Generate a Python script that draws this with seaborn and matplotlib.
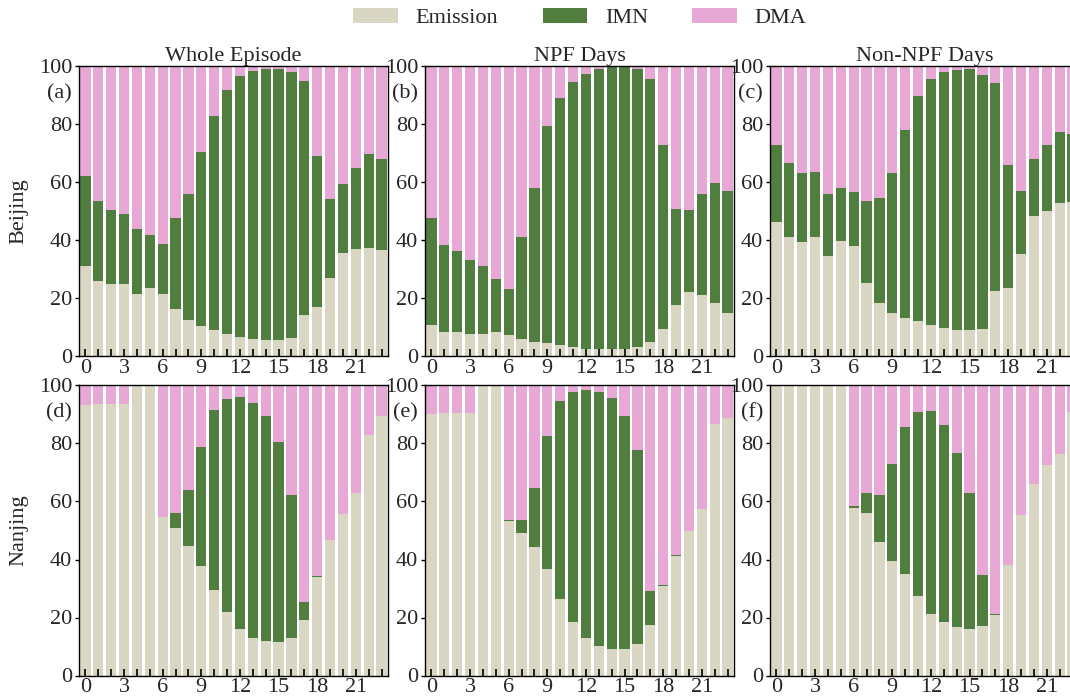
import numpy as np
import pandas as pd
import matplotlib
matplotlib.use("Agg")
import matplotlib.pyplot as plt
import seaborn as sns
from matplotlib.patches import Patch

hours = list(range(24))

# Emission share (%) and Emission+IMN cumulative share (%) per hour
bj_whole_emis = [30.9, 25.8, 24.7, 24.8, 21.4, 23.3, 21.4, 16.1, 12.4, 10.4, 8.9, 7.6,
                 6.6, 6.0, 5.5, 5.6, 6.3, 14.3, 16.9, 26.8, 35.6, 36.8, 37.4, 36.4]
bj_whole_cum = [61.9, 53.5, 50.5, 48.8, 43.8, 41.7, 38.6, 47.6, 56.0, 70.3, 82.9, 91.8,
                96.4, 98.4, 99.1, 99.1, 97.8, 94.9, 68.8, 54.1, 59.4, 65.0, 69.5, 67.9]

bj_npf_emis = [10.8, 8.4, 8.2, 7.6, 7.7, 8.2, 7.1, 5.8, 4.8, 4.4, 3.7, 3.0,
               2.5, 2.3, 2.3, 2.5, 3.1, 4.7, 9.2, 17.5, 21.9, 21.2, 18.2, 15.0]
bj_npf_cum = [47.7, 38.4, 36.3, 33.2, 31.1, 26.7, 23.2, 41.0, 57.8, 79.4, 88.9, 94.4,
              97.4, 99.0, 99.5, 99.5, 98.8, 95.5, 72.8, 50.8, 50.2, 55.8, 59.8, 57.0]

bj_non_emis = [46.3, 41.1, 39.2, 40.9, 34.4, 39.5, 38.0, 25.3, 18.3, 14.9, 13.0, 11.9,
               10.6, 9.7, 9.0, 8.8, 9.4, 22.5, 23.3, 35.1, 48.2, 50.0, 52.8, 53.0]
bj_non_cum = [72.6, 66.7, 63.0, 63.5, 56.0, 57.8, 56.5, 53.6, 54.5, 63.2, 78.1, 89.7,
              95.5, 97.8, 98.7, 98.8, 96.9, 94.2, 65.7, 56.9, 67.9, 72.8, 77.2, 76.4]

nj_whole_emis = [93.4, 93.7, 93.5, 93.5, 100.0, 100.0, 54.5, 50.8, 44.8, 37.8, 29.5, 21.9,
                 16.1, 13.0, 11.8, 11.5, 13.0, 19.0, 34.0, 46.8, 55.8, 62.8, 82.8, 89.4]
nj_whole_cum = [93.4, 93.7, 93.5, 93.5, 100.0, 100.0, 54.8, 56.0, 63.8, 78.8, 91.5, 95.3,
                96.1, 94.0, 89.4, 80.6, 62.1, 25.3, 34.3, 46.8, 55.8, 62.8, 82.8, 89.4]

nj_npf_emis = [90.0, 90.6, 90.6, 90.6, 100.0, 100.0, 53.3, 49.0, 44.2, 36.8, 26.3, 18.5,
               13.0, 10.3, 9.2, 9.3, 10.8, 17.3, 30.9, 41.2, 49.9, 57.3, 86.6, 88.8]
nj_npf_cum = [90.0, 90.6, 90.6, 90.6, 100.0, 100.0, 53.5, 53.5, 64.5, 82.5, 94.7, 97.7,
              98.5, 97.8, 95.6, 89.5, 77.6, 29.1, 31.1, 41.4, 49.9, 57.3, 86.6, 88.8]

nj_non_emis = [100.0, 100.0, 100.0, 100.0, 100.0, 100.0, 57.8, 55.9, 46.0, 39.6, 35.1, 27.5,
               21.3, 18.5, 16.8, 16.0, 16.9, 21.0, 38.2, 55.5, 66.0, 72.6, 76.4, 90.7]
nj_non_cum = [100.0, 100.0, 100.0, 100.0, 100.0, 100.0, 58.5, 63.1, 62.4, 73.0, 85.6, 90.9,
              91.2, 86.5, 76.7, 62.9, 34.6, 21.1, 38.2, 55.5, 66.0, 72.6, 76.4, 90.7]

col_titles = ["Whole Episode", "NPF Days", "Non-NPF Days"]
row_labels = ["Beijing", "Nanjing"]
panel_tags = ["(a)", "(b)", "(c)", "(d)", "(e)", "(f)"]
series_names = ["Emission", "IMN", "DMA"]
colors = {"Emission": "#d9d6c4", "IMN": "#4f7e3e", "DMA": "#e7a8d6"}

panels = [
    (bj_whole_emis, bj_whole_cum), (bj_npf_emis, bj_npf_cum), (bj_non_emis, bj_non_cum),
    (nj_whole_emis, nj_whole_cum), (nj_npf_emis, nj_npf_cum), (nj_non_emis, nj_non_cum),
]

sns.set_style("ticks")
plt.rcParams["font.family"] = ["Liberation Serif", "DejaVu Serif"]
plt.rcParams["font.size"] = 16
plt.rcParams["axes.axisbelow"] = False

FS = 16
fig = plt.figure(figsize=(10.7, 6.97), dpi=100)
W, H = 1070, 697
lefts = [79, 425, 770]
tops = [66, 385.5]
aw, ah = 309, 290

for i, (emis, cum) in enumerate(panels):
    r, c = divmod(i, 3)
    ax = fig.add_axes([lefts[c] / W, 1 - (tops[r] + ah) / H, aw / W, ah / H])
    emis = np.array(emis)
    cum = np.array(cum)
    imn = cum - emis
    dma = 100 - cum
    df = pd.DataFrame({"hour": hours, "Emission": emis, "IMN": imn, "DMA": dma})
    df["top_dma"] = df["Emission"] + df["IMN"] + df["DMA"]
    df["top_imn"] = df["Emission"] + df["IMN"]
    for col, name in [("top_dma", "DMA"), ("top_imn", "IMN"), ("Emission", "Emission")]:
        sns.barplot(data=df, x="hour", y=col, order=hours, color=colors[name],
                    saturation=1, width=0.8, edgecolor="none", linewidth=0, ax=ax)
    ax.set_axisbelow(False)
    ax.set_xlim(-0.5, 23.5)
    ax.set_ylim(0, 100)
    ax.set_xticks(hours[::3])
    ax.set_xticklabels([str(h) for h in hours[::3]])
    ax.set_xticks(hours, minor=True)
    ax.set_yticks([0, 20, 40, 60, 80, 100])
    ax.tick_params(axis="x", which="both", direction="in", length=5, width=1.2,
                   color="black", labelsize=FS, pad=2, bottom=True, top=False)
    ax.tick_params(axis="y", which="both", direction="out", length=3, width=1.0,
                   color="black", labelsize=FS, pad=2, left=True, right=False)
    ax.set_xlabel("")
    ax.set_ylabel("")
    for s in ax.spines.values():
        s.set_visible(True)
        s.set_color("black")
        s.set_linewidth(1.0)
    ax.text(-0.022, 0.905, panel_tags[i], transform=ax.transAxes, fontsize=FS,
            ha="right", va="center")
    if r == 0:
        ax.set_title(col_titles[c], fontsize=FS, pad=3)
    if c == 0:
        fig.text(19 / W, 1 - (tops[r] + ah / 2) / H, row_labels[r], fontsize=FS,
                 rotation=90, ha="center", va="center")

handles = [Patch(facecolor=colors[n], edgecolor="none", label=n) for n in series_names]
fig.legend(handles=handles, loc="center", bbox_to_anchor=(0.542, 0.974), ncol=3,
           frameon=False, fontsize=FS, handlelength=2.0, handleheight=0.7,
           columnspacing=2.0, handletextpad=0.8)

fig.savefig("out.png", dpi=100)
